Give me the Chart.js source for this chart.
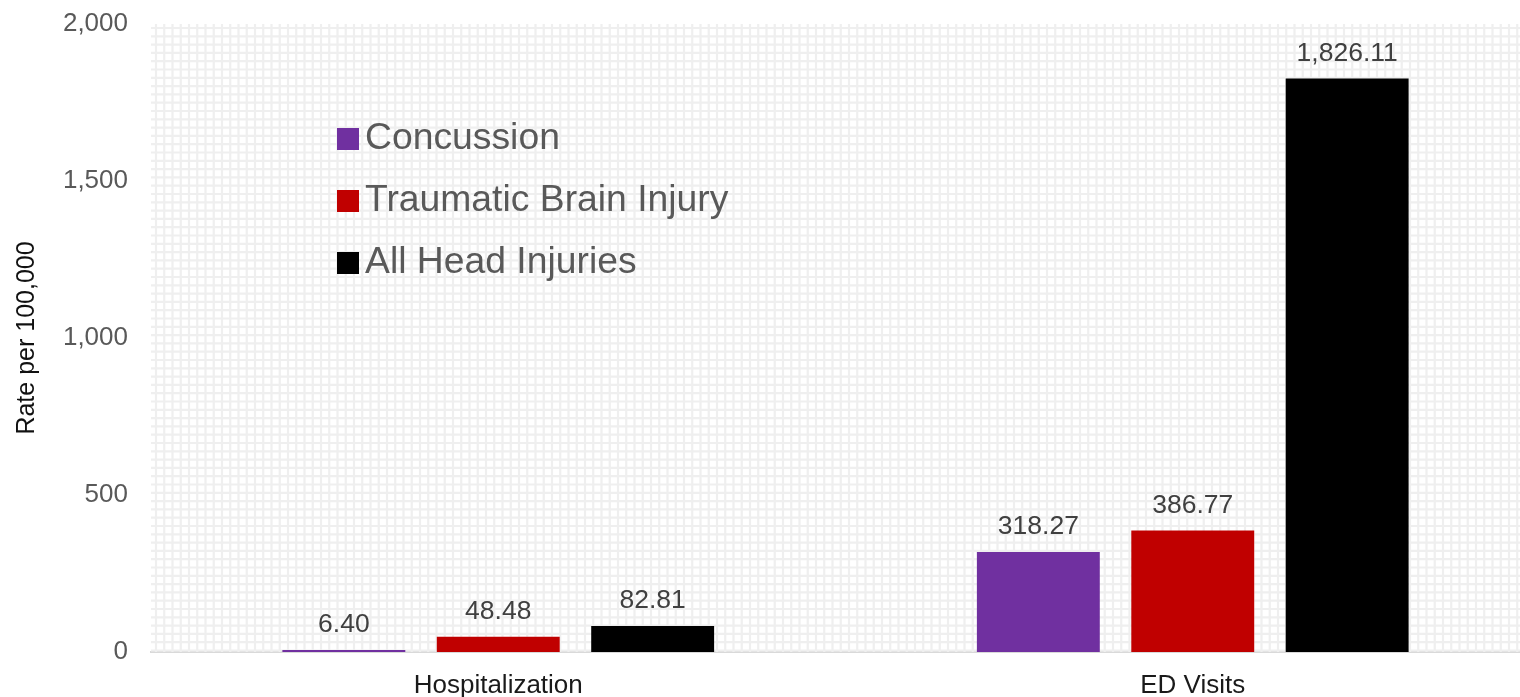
<!DOCTYPE html>
<html>
<head>
<meta charset="utf-8">
<title>Head injury rates</title>
<script src="https://cdn.jsdelivr.net/npm/chart.js@4.4.1/dist/chart.umd.min.js"></script>
<style>
    html, body { margin: 0; padding: 0; background: #fff; overflow: hidden; }
    #wrap { width: 1540px; height: 697px; }
</style>
</head>
<body>
<div id="wrap"><canvas id="injury-chart" width="1540" height="697"></canvas></div>
<script>
const categories = ['Hospitalization', 'ED Visits'];
const seriesNames = ['Concussion', 'Traumatic Brain Injury', 'All Head Injuries'];
const concussion = [6.40, 318.27];
const tbi = [48.48, 386.77];
const allHead = [82.81, 1826.11];
const seriesColors = ['#7030A0', '#C00000', '#000000'];
const yTicks = [0, 500, 1000, 1500, 2000];

const FONT = '"Liberation Sans", Arial, sans-serif';
const fmt = (v, digits) => v.toLocaleString('en-US', { minimumFractionDigits: digits, maximumFractionDigits: digits });

// light mesh behind the plot area
const meshBackground = {
    id: 'meshBackground',
    beforeDatasetsDraw(chart) {
        const { ctx, chartArea: a } = chart;
        ctx.save();
        ctx.beginPath();
        ctx.rect(a.left, a.top, a.right - a.left, a.bottom - a.top);
        ctx.clip();
        ctx.strokeStyle = '#efefef';
        ctx.lineWidth = 2.2;
        ctx.beginPath();
        for (let x = a.left + 5; x < a.right; x += 8.25) {
            ctx.moveTo(x, a.top);
            ctx.lineTo(x, a.bottom);
        }
        for (let y = a.top + 4; y < a.bottom; y += 8.3) {
            ctx.moveTo(a.left, y);
            ctx.lineTo(a.right, y);
        }
        ctx.stroke();
        ctx.restore();
    }
};

// value text above each bar
const barValues = {
    id: 'barValues',
    afterDatasetsDraw(chart) {
        const { ctx } = chart;
        ctx.save();
        ctx.font = '26.5px ' + FONT;
        ctx.fillStyle = '#404040';
        ctx.textAlign = 'center';
        ctx.textBaseline = 'middle';
        chart.data.datasets.forEach((ds, i) => {
            chart.getDatasetMeta(i).data.forEach((bar, j) => {
                ctx.fillText(fmt(ds.data[j], 2), bar.x, bar.y - 25);
            });
        });
        ctx.restore();
    }
};

// legend floating inside the plot
const floatingLegend = {
    id: 'floatingLegend',
    afterDraw(chart) {
        const { ctx } = chart;
        ctx.save();
        ctx.font = '37.3px ' + FONT;
        ctx.textBaseline = 'middle';
        chart.data.datasets.forEach((ds, i) => {
            const cy = 139 + i * 62;
            ctx.fillStyle = ds.backgroundColor;
            ctx.fillRect(337, cy - 11, 22, 22);
            ctx.fillStyle = '#595959';
            ctx.fillText(ds.label, 365, cy);
        });
        ctx.restore();
    }
};

const ctx = document.getElementById('injury-chart').getContext('2d');

const injuryChart = new Chart(ctx, {
    type: 'bar',
    data: {
        labels: categories,
        datasets: [
            { label: seriesNames[0], data: concussion, backgroundColor: seriesColors[0] },
            { label: seriesNames[1], data: tbi, backgroundColor: seriesColors[1] },
            { label: seriesNames[2], data: allHead, backgroundColor: seriesColors[2] }
        ]
    },
    options: {
        responsive: false,
        animation: false,
        devicePixelRatio: 1,
        layout: { padding: { top: 24, right: 0, left: 0, bottom: 0 } },
        datasets: {
            bar: {
                categoryPercentage: 0.667,
                barPercentage: 0.796,
                borderWidth: 0
            }
        },
        scales: {
            x: {
                grid: { display: false, drawTicks: false },
                border: { display: true, color: '#d9d9d9', width: 2 },
                ticks: {
                    color: '#1a1a1a',
                    padding: 18,
                    font: { family: FONT, size: 26 }
                },
                afterFit: (scale) => { scale.height = 45; }
            },
            y: {
                min: 0,
                max: 2000,
                afterBuildTicks: (scale) => { scale.ticks = yTicks.map(v => ({ value: v })); },
                grid: { display: false, drawTicks: false },
                border: { display: false },
                ticks: {
                    color: '#595959',
                    padding: 23,
                    font: { family: FONT, size: 26 },
                    callback: (v) => fmt(v, 0)
                },
                title: {
                    display: true,
                    text: 'Rate per 100,000',
                    color: '#111111',
                    padding: { top: 12, bottom: 0 },
                    font: { family: FONT, size: 25 }
                },
                afterFit: (scale) => {
                    scale.width = 151;
                    // the tick padding shouldn't push the plot down
                    scale.paddingTop = 0;
                    scale.paddingBottom = 0;
                }
            }
        },
        plugins: {
            legend: { display: false },
            tooltip: { enabled: false }
        }
    },
    plugins: [meshBackground, barValues, floatingLegend]
});
</script>
</body>
</html>
